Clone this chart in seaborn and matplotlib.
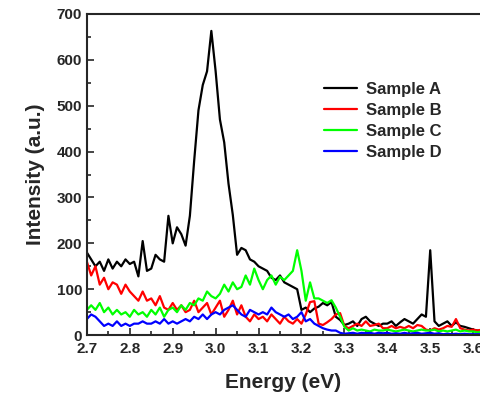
import numpy as np
import pandas as pd
import matplotlib
matplotlib.use('Agg')
import matplotlib.pyplot as plt
import seaborn as sns
from matplotlib.ticker import MultipleLocator

## energy grid (eV), 0.01 step from 2.70 to 3.62
energy = np.round(np.arange(2.70, 3.625, 0.01), 2)

## Sample A (black)
sample_a = [180, 165, 150, 160, 140, 165, 145, 160, 150, 165,
            155, 160, 128, 205, 140, 145, 175, 165, 160, 260,
            200, 235, 220, 195, 260, 380, 490, 545, 575, 663,
            575, 470, 420, 330, 262, 175, 190, 185, 165, 160,
            150, 145, 140, 125, 120, 130, 115, 110, 105, 100,
            55, 60, 50, 58, 62, 70, 65, 72, 40, 33,
            22, 25, 30, 20, 35, 40, 30, 25, 20, 25,
            25, 30, 20, 28, 35, 30, 25, 35, 45, 40,
            185, 30, 20, 25, 30, 20, 28, 20, 18, 15,
            12, 10, 10]

## Sample B (red)
sample_b = [160, 130, 150, 110, 125, 100, 115, 110, 90, 110,
            95, 85, 75, 95, 75, 80, 65, 85, 60, 55,
            70, 55, 65, 50, 55, 75, 50, 60, 70, 45,
            60, 75, 40, 55, 75, 45, 65, 40, 30, 45,
            35, 40, 30, 45, 35, 25, 40, 30, 25, 35,
            25, 45, 72, 74, 25, 22, 28, 35, 45, 48,
            20, 15, 20, 25, 20, 30, 20, 22, 25, 15,
            15, 20, 15, 18, 15, 20, 15, 22, 20, 12,
            10, 15, 12, 15, 20, 18, 35, 15, 12, 10,
            12, 10, 12]

## Sample C (green)
sample_c = [55, 65, 55, 70, 50, 60, 45, 55, 45, 50,
            40, 55, 45, 50, 40, 55, 45, 60, 40, 55,
            60, 50, 65, 55, 70, 65, 80, 75, 95, 85,
            80, 90, 110, 95, 115, 100, 105, 130, 110, 145,
            120, 100, 120, 130, 110, 127, 120, 130, 140, 185,
            140, 75, 115, 80, 80, 75, 70, 76, 60, 40,
            18, 10, 15, 10, 12, 10, 8, 12, 10, 10,
            12, 10, 8, 10, 12, 10, 8, 10, 12, 10,
            10, 12, 8, 10, 8, 10, 12, 8, 10, 8,
            8, 6, 8]

## Sample D (blue)
sample_d = [35, 45, 40, 30, 20, 25, 20, 30, 20, 25,
            20, 25, 25, 30, 25, 25, 30, 25, 35, 25,
            30, 25, 30, 35, 30, 40, 35, 45, 35, 45,
            50, 45, 55, 60, 65, 55, 45, 40, 55, 50,
            45, 50, 45, 60, 50, 45, 40, 45, 35, 40,
            50, 30, 35, 25, 20, 15, 12, 10, 10, 5,
            3, 4, 5, 3, 5, 4, 5, 3, 5, 4,
            5, 3, 4, 3, 5, 3, 4, 5, 3, 4,
            5, 3, 4, 2, 3, 2, 3, 2, 3, 2,
            2, 2, 2]

labels = ['Sample A', 'Sample B', 'Sample C', 'Sample D']
colors = ['#000000', '#ff0000', '#00ff00', '#0000ff']

frames = []
for lab, vals in zip(labels, [sample_a, sample_b, sample_c, sample_d]):
    frames.append(pd.DataFrame({'Energy': energy, 'Intensity': vals, 'Sample': lab}))
df = pd.concat(frames, ignore_index=True)

sns.set_style('ticks')
plt.rcParams['font.family'] = ['Liberation Sans', 'DejaVu Sans']
plt.rcParams['font.weight'] = 'bold'

fig = plt.figure(figsize=(4.8, 3.98), dpi=100)
ax = fig.add_axes([0.181, 0.158, 0.819, 0.807])
sns.lineplot(data=df, x='Energy', y='Intensity', hue='Sample',
             palette=colors, linewidth=1.6, ax=ax, legend=True)

ax.set_xlim(2.7, 3.616)
ax.set_ylim(0, 700)
ax.xaxis.set_major_locator(MultipleLocator(0.1))
ax.xaxis.set_minor_locator(MultipleLocator(0.05))
ax.yaxis.set_major_locator(MultipleLocator(100))
ax.yaxis.set_minor_locator(MultipleLocator(50))
ax.tick_params(which='both', direction='in', top=False, right=False,
               labelsize=11, width=1.2)
ax.tick_params(which='major', length=5)
ax.tick_params(which='minor', length=3)
ax.tick_params(axis='x', pad=5)
for s in ['left', 'bottom', 'top']:
    ax.spines[s].set_linewidth(1.5)
ax.spines['right'].set_visible(False)

ax.set_xlabel('Energy (eV)', fontsize=15, fontweight='bold', labelpad=12)
ax.set_ylabel('Intensity (a.u.)', fontsize=15, fontweight='bold', labelpad=8)

leg = ax.legend(loc='upper left', bbox_to_anchor=(0.565, 0.835), frameon=False,
                fontsize=12, handlelength=2.0, handletextpad=0.5,
                labelspacing=0.36)
for t in leg.get_texts():
    t.set_fontweight('bold')

fig.savefig('out.png', dpi=100)
